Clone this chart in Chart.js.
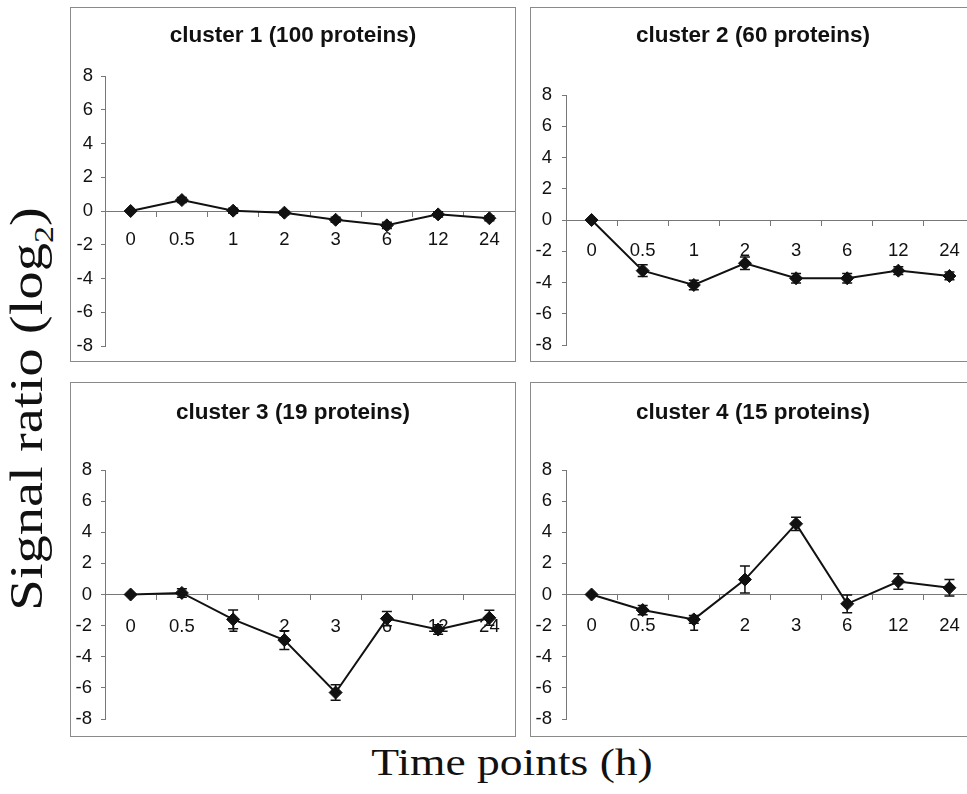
<!DOCTYPE html>
<html lang="en">
<head>
    <meta charset="UTF-8">
    <title>Protein clusters</title>
    <style>
        body {
            margin: 0;
            padding: 0;
            width: 967px;
            height: 794px;
            overflow: hidden;
            position: relative;
            background: #ffffff;
            font-family: Arial, "Liberation Sans", sans-serif;
        }

        .panel {
            position: absolute;
            height: 355px;
            border: 1px solid #8a8a8a;
            box-sizing: border-box;
            background: #fff;
            overflow: hidden;
        }

        .panel canvas {
            position: absolute;
            left: 0;
            top: 0;
        }

        .panel-title {
            position: absolute;
            left: 0;
            width: 444px;
            text-align: center;
            font-weight: bold;
            font-size: 22.5px;
            color: #111;
            z-index: 2;
        }

        .y-title {
            position: absolute;
            left: 30px;
            top: 409px;
            transform: translate(-50%, -50%) rotate(-90deg) scaleX(1.23);
            font-family: "Liberation Serif", "Times New Roman", serif;
            font-size: 46px;
            white-space: nowrap;
            color: #111;
        }

        .x-title {
            position: absolute;
            left: 512px;
            top: 762px;
            transform: translate(-50%, -50%) scaleX(1.23);
            font-family: "Liberation Serif", "Times New Roman", serif;
            font-size: 37px;
            white-space: nowrap;
            color: #111;
        }
    </style>
</head>
<body>
    <div class="y-title">Signal ratio (log<sub style="font-size: 0.6em;">2</sub>)</div>
    <div class="x-title">Time points (h)</div>

    <script src="https://cdn.jsdelivr.net/npm/chart.js"></script>
    <script>
        // time points (h)
        const timeLabels = ['0', '0.5', '1', '2', '3', '6', '12', '24'];
        const yTickValues = [-8, -6, -4, -2, 0, 2, 4, 6, 8];

        const clusterTitles = [
            'cluster 1 (100 proteins)',
            'cluster 2 (60 proteins)',
            'cluster 3 (19 proteins)',
            'cluster 4 (15 proteins)'
        ];

        // mean log2 ratio and error per time point
        const cluster1Means = [0, 0.65, 0.02, -0.1, -0.52, -0.85, -0.2, -0.43];
        const cluster1Err   = [0, 0.15, 0.15, 0.12, 0.15, 0.18, 0.15, 0.15];
        const cluster2Means = [0, -3.24, -4.16, -2.77, -3.73, -3.73, -3.24, -3.58];
        const cluster2Err   = [0, 0.37, 0.3, 0.4, 0.3, 0.3, 0.25, 0.25];
        const cluster3Means = [0, 0.1, -1.6, -2.93, -6.3, -1.55, -2.25, -1.5];
        const cluster3Err   = [0, 0.27, 0.6, 0.6, 0.5, 0.45, 0.3, 0.48];
        const cluster4Means = [0, -1.0, -1.6, 0.96, 4.54, -0.6, 0.83, 0.43];
        const cluster4Err   = [0, 0.3, 0.25, 0.87, 0.43, 0.57, 0.5, 0.53];

        const allMeans = [cluster1Means, cluster2Means, cluster3Means, cluster4Means];
        const allErr = [cluster1Err, cluster2Err, cluster3Err, cluster4Err];

        // panel boxes on the page (right column runs off the page edge)
        const panelLayout = [
            { left: 70,  top: 7,   width: 446, axisWidth: 34, tickPad: 8,  padTop: 68, padBottom: 15, titleTop: 28, labelPad: 13 },
            { left: 530, top: 7,   width: 437, axisWidth: 35, tickPad: 10, padTop: 87, padBottom: 16, titleTop: 28, labelPad: 15 },
            { left: 70,  top: 382, width: 446, axisWidth: 34, tickPad: 9,  padTop: 87, padBottom: 17, titleTop: 30, labelPad: 16 },
            { left: 530, top: 382, width: 437, axisWidth: 35, tickPad: 10, padTop: 87, padBottom: 17, titleTop: 30, labelPad: 15 }
        ];

        const errorBars = {
            id: 'errorBars',
            beforeDatasetsDraw(chart) {
                const ctx = chart.ctx;
                const xs = chart.scales.x;
                const ys = chart.scales.y;
                chart.data.datasets.forEach(ds => {
                    ctx.save();
                    ctx.strokeStyle = '#111';
                    ctx.lineWidth = 1.5;
                    ds.data.forEach((v, i) => {
                        const e = ds.errors[i];
                        if (!e) return;
                        const x = xs.getPixelForValue(i);
                        const yTop = ys.getPixelForValue(v + e);
                        const yBot = ys.getPixelForValue(v - e);
                        ctx.beginPath();
                        ctx.moveTo(x, yTop);
                        ctx.lineTo(x, yBot);
                        ctx.moveTo(x - 5, yTop);
                        ctx.lineTo(x + 5, yTop);
                        ctx.moveTo(x - 5, yBot);
                        ctx.lineTo(x + 5, yBot);
                        ctx.stroke();
                    });
                    ctx.restore();
                });
            }
        };

        const tickFont = { family: 'Arial, "Liberation Sans", sans-serif', size: 18.5 };

        panelLayout.forEach((p, idx) => {
            const div = document.createElement('div');
            div.className = 'panel';
            div.style.left = p.left + 'px';
            div.style.top = p.top + 'px';
            div.style.width = p.width + 'px';
            if (p.width < 446) div.style.borderRight = 'none';

            const title = document.createElement('div');
            title.className = 'panel-title';
            title.textContent = clusterTitles[idx];
            title.style.top = (p.titleTop - 14) + 'px';
            div.appendChild(title);

            const canvas = document.createElement('canvas');
            canvas.width = 444;
            canvas.height = 353;
            canvas.style.width = '444px';
            canvas.style.height = '353px';
            div.appendChild(canvas);
            document.body.appendChild(div);

            new Chart(canvas.getContext('2d'), {
                type: 'line',
                data: {
                    labels: timeLabels,
                    datasets: [{
                        data: allMeans[idx],
                        errors: allErr[idx],
                        borderColor: '#111',
                        borderWidth: 2,
                        backgroundColor: '#111',
                        pointStyle: 'rectRot',
                        pointRadius: 6.5,
                        pointBorderWidth: 1,
                        pointBackgroundColor: '#111',
                        pointBorderColor: '#111',
                        tension: 0,
                        clip: false
                    }]
                },
                options: {
                    responsive: false,
                    animation: false,
                    layout: {
                        autoPadding: false,
                        padding: { top: p.padTop, bottom: p.padBottom, left: 0, right: 0 }
                    },
                    plugins: {
                        legend: { display: false },
                        tooltip: { enabled: false },
                        title: { display: false }
                    },
                    scales: {
                        y: {
                            type: 'linear',
                            position: 'left',
                            min: -8,
                            max: 8,
                            afterBuildTicks: scale => {
                                scale.ticks = yTickValues.map(v => ({ value: v }));
                            },
                            afterFit: scale => {
                                scale.width = p.axisWidth;
                                scale.paddingTop = 0;
                                scale.paddingBottom = 0;
                            },
                            grid: {
                                drawOnChartArea: false,
                                drawTicks: true,
                                tickLength: 4,
                                color: '#777'
                            },
                            border: { color: '#777', width: 1 },
                            ticks: {
                                font: tickFont,
                                color: '#111',
                                padding: p.tickPad
                            }
                        },
                        x: {
                            type: 'category',
                            position: { y: 0 },
                            offset: true,
                            afterFit: scale => {
                                // let the axis run to the panel edge
                                scale.paddingLeft = 0;
                                scale.paddingRight = 0;
                            },
                            grid: {
                                drawOnChartArea: false,
                                drawTicks: true,
                                tickLength: 5,
                                offset: true,
                                color: '#777'
                            },
                            border: { color: '#777', width: 1 },
                            ticks: {
                                font: tickFont,
                                color: '#111',
                                padding: p.labelPad,
                                maxRotation: 0,
                                autoSkip: false
                            }
                        }
                    }
                },
                plugins: [errorBars]
            });
        });
    </script>
</body>
</html>
